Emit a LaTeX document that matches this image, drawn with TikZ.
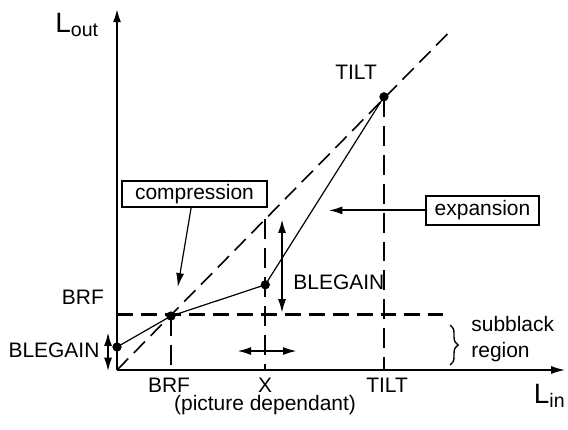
\documentclass[tikz,border=0pt]{standalone}
\usepackage{fontspec}
\setmainfont{Liberation Sans}
\usetikzlibrary{arrows.meta,decorations.pathreplacing}

\tikzset{
  >={Latex[length=7pt,width=4pt]},
  axis/.style={->, line width=1.2pt},
  guide/.style={line width=1.2pt, dash pattern=on 8pt off 4pt},
  vguide/.style={line width=1.2pt, dash pattern=on 10pt off 4.5pt},
  tag/.style={draw, line width=1.1pt, inner sep=0pt},
  lbl/.style={inner sep=0pt},
  big/.style={inner sep=0pt, font=\fontsize{14}{16}\selectfont}
}

\begin{document}
\begin{tikzpicture}[font=\fontsize{10.5}{12.6}\selectfont]
\useasboundingbox (-2.06,-1.039) rectangle (7.94,6.514);

\coordinate (o) at (0,0);
\coordinate (ytip) at (0,6.37);
\coordinate (xtip) at (7.89,0);
\draw[axis] (o) -- (ytip);
\draw[->, line width=0.8pt] (o) -- (xtip);

\node[big] (lout) at (-0.70,6.07) {L\textsubscript{out}};
\node[big] (lin) at (7.62,-0.46) {L\textsubscript{in}};

% diagonal and guide lines
\coordinate (diag) at (5.85,5.95);
\draw[line width=0.8pt, dash pattern=on 8pt off 4pt] (o) -- (diag);

\coordinate (h1) at (0,0.98);
\coordinate (h2) at (5.74,0.98);
\draw[guide] (h1) -- (h2);

\coordinate (p0) at (0,0.405);
\coordinate (brf) at (0.95,0.95);
\coordinate (px) at (2.61,1.50);
\coordinate (tilt) at (4.70,4.81);

\coordinate (brfb) at (0.95,0);
\coordinate (xt) at (2.61,2.65);
\coordinate (xb) at (2.61,0);
\coordinate (tiltb) at (4.70,0);
\draw[vguide] (brf) -- (brfb);
\draw[vguide] (xt) -- (xb);
\draw[vguide] (tilt) -- (tiltb);

% the curve
\draw[line width=0.6pt] (p0) -- (brf) -- (px) -- (tilt);
\draw[fill] (p0) circle (2.1pt);
\draw[fill] (brf) circle (2.1pt);
\draw[fill] (px) circle (2.1pt);
\draw[fill] (tilt) circle (2.1pt);

% boxes
\node[tag, minimum width=2.55cm, minimum height=0.46cm] (comp) at (1.364,3.10) {compression};
\node[tag, minimum width=1.99cm, minimum height=0.51cm] (exp) at (6.435,2.81) {expansion};

\coordinate (comptip) at (1.07,1.46);
\draw[->, line width=0.6pt] ([xshift=-0.06cm]comp.south) -- (comptip);
\coordinate (exptip) at (3.72,2.81);
\draw[->, line width=1.1pt] (exp.west) -- (exptip);

% gain arrows
\coordinate (g1) at (2.905,2.66);
\coordinate (g2) at (2.905,1.0);
\draw[<->, line width=1.1pt] (g1) -- (g2);
\node[lbl, anchor=west] (blg1) at (3.10,1.55) {BLEGAIN};

\coordinate (s1) at (-0.158,0.67);
\coordinate (s2) at (-0.158,-0.03);
\draw[<->, line width=1.1pt] (s1) -- (s2);
\node[lbl] (blg2) at (-1.11,0.35) {BLEGAIN};

\coordinate (m1) at (2.113,0.334);
\coordinate (m2) at (3.169,0.334);
\draw[<->, line width=1.1pt] (m1) -- (m2);

% labels
\node[lbl] (brfy) at (-0.60,1.285) {BRF};
\node[lbl] (brfx) at (0.915,-0.264) {BRF};
\node[lbl] (xx) at (2.606,-0.264) {X};
\node[lbl] (tiltx) at (4.754,-0.264) {TILT};
\node[lbl] (pic) at (2.606,-0.616) {(picture dependant)};
\node[lbl] (tilty) at (4.208,5.246) {TILT};

% subblack region
\coordinate (b1) at (5.863,0.792);
\coordinate (b2) at (5.863,0.088);
\draw[line width=0.7pt, decorate, decoration={brace, amplitude=4pt}] (b1) -- (b2);
\node[lbl, anchor=west, align=left] (sub) at (6.232,0.545) {subblack\\region};

\end{tikzpicture}
\end{document}
